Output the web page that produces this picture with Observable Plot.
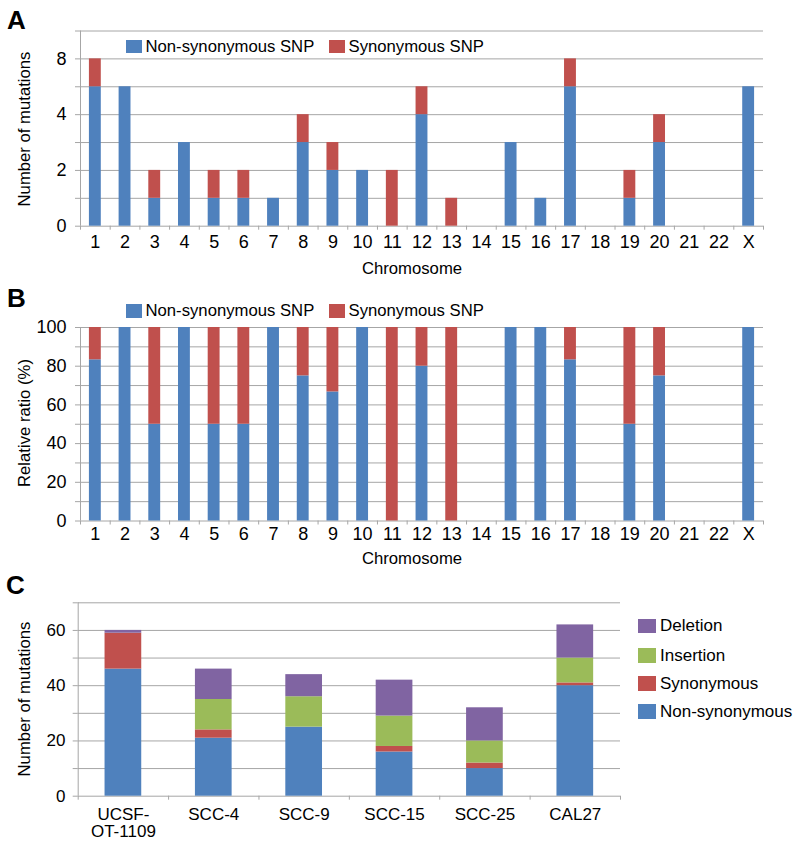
<!DOCTYPE html>
<html>
<head>
<meta charset="utf-8">
<script src="https://cdn.jsdelivr.net/npm/d3@7"></script>
<script src="https://cdn.jsdelivr.net/npm/@observablehq/plot@0.6"></script>
<style>
  body { margin: 0; background: #fff; }
  #root { position: relative; width: 800px; height: 847px; overflow: hidden;
          font-family: "Liberation Sans", Arial, sans-serif; color: #000; }
  .abs { position: absolute; white-space: nowrap; }
  .panel { position: absolute; left: 0; }
  .letter { font-weight: bold; font-size: 26px; line-height: 26px; }
  .txt { font-size: 16.7px; line-height: 20px; }
  .ytitle { font-size: 16.7px; line-height: 20px; transform: translate(-50%, -50%) rotate(-90deg); }
  .xtitle { font-size: 16.7px; line-height: 20px; transform: translate(-50%, -50%); }
</style>
</head>
<body>
<div id="root"></div>
<script>
// ---------- Data ----------
const chromosomes = ["1","2","3","4","5","6","7","8","9","10","11","12","13","14","15","16","17","18","19","20","21","22","X"];
const countNonSyn = [5,5,1,3,1,1,1,3,2,2,0,4,0,0,3,1,5,0,1,3,0,0,5];
const countSyn    = [1,0,1,0,1,1,0,1,1,0,2,1,1,0,0,0,1,0,1,1,0,0,0];
const ratioNonSyn = [83.3,100,50,100,50,50,100,75,66.7,100,0,80,0,0,100,100,83.3,0,50,75,0,0,100];
const ratioSyn    = [16.7,0,50,0,50,50,0,25,33.3,0,100,20,100,0,0,0,16.7,0,50,25,0,0,0];
const snpNames  = ["Non-synonymous SNP", "Synonymous SNP"];

const yTicksA = [0, 2, 4, 6];
const yTickLabelsA = ["0", "2", "4", "8"];
const yGridA = [0, 1, 2, 3, 4, 5, 6, 7];
const yTicksB = [0, 20, 40, 60, 80, 100];
const yGridB = [0, 10, 20, 30, 40, 50, 60, 70, 80, 90, 100];
const yTicksC = [0, 20, 40, 60];
const yGridC = [0, 10, 20, 30, 40, 50, 60, 70];

const cellLines = ["UCSF-\nOT-1109", "SCC-4", "SCC-9", "SCC-15", "SCC-25", "CAL27"];
const cNonSyn    = [46, 21, 25, 16, 10, 40];
const cSyn       = [13, 3, 0, 2, 2, 1];
const cInsertion = [0, 11, 11, 11, 8, 9];
const cDeletion  = [1, 11, 8, 13, 12, 12];
const mutNames = ["Non-synonymous", "Synonymous", "Insertion", "Deletion"];

const colBlue = "#4F81BD", colRed = "#C0504D", colGreen = "#9BBB59", colPurple = "#8064A2";
const gridColor = "#a6a6a6";
const FONT = '"Liberation Sans", Arial, sans-serif';

// ---------- Helpers ----------
function stackRows(cats, seriesNames, seriesValues) {
  const rows = [];
  cats.forEach((c, i) => {
    let base = 0;
    seriesNames.forEach((name, k) => {
      const v = seriesValues[k][i];
      if (v > 0) rows.push({i, cat: c, key: name, y1: base, y2: base + v});
      base += v || 0;
    });
  });
  return rows;
}

function barPanel({cats, names, values, colors, width = 800, height, mt, mb, ml, mr,
                   yDomain, yGrid, yTicks, yLabel, xPad, yPad, half = 0.2, lineHeight = 1, fs = 18}) {
  const rows = stackRows(cats, names, values);
  const n = cats.length;
  return Plot.plot({
    width, height, marginTop: mt, marginBottom: mb, marginLeft: ml, marginRight: mr,
    x: {type: "linear", domain: [0, n]},
    y: {type: "linear", domain: yDomain},
    color: {domain: names, range: colors},
    style: {fontFamily: FONT, fontSize: fs + "px", color: "#000", background: "transparent", overflow: "visible"},
    marks: [
      Plot.gridY(yGrid, {stroke: gridColor, strokeOpacity: 1, strokeWidth: 1}),
      Plot.ruleX([0], {stroke: gridColor, strokeWidth: 1}),
      Plot.rect(rows, {x1: d => d.i + 0.5 - half, x2: d => d.i + 0.5 + half, y1: "y1", y2: "y2", fill: "key"}),
      Plot.axisY({ticks: yGrid, tickFormat: () => "", tickSize: 5, stroke: gridColor, label: null}),
      Plot.axisY({ticks: yTicks, tickFormat: yLabel, tickSize: 0, tickPadding: yPad, label: null,
                  fill: "#000", fontSize: fs}),
      Plot.axisX({ticks: d3.range(0, n + 1), tickFormat: () => "", tickSize: 4, stroke: gridColor, label: null}),
      Plot.axisX({ticks: cats.map((c, i) => i + 0.5), tickFormat: t => cats[Math.round(t - 0.5)],
                  tickSize: 0, tickPadding: xPad, label: null, fill: "#000", fontSize: fs, lineHeight})
    ]
  });
}

const root = document.getElementById("root");
function addEl(html, cls, left, top, extra = "") {
  const d = document.createElement("div");
  d.className = "abs " + cls;
  d.style.cssText = `left:${left}px;top:${top}px;${extra}`;
  d.textContent = html;
  root.appendChild(d);
  return d;
}
function addPanel(svg, top) {
  const w = document.createElement("div");
  w.className = "panel";
  w.style.top = top + "px";
  w.appendChild(svg);
  root.appendChild(w);
}
function square(left, top, w, h, color) {
  const d = document.createElement("div");
  d.className = "abs";
  d.style.cssText = `left:${left}px;top:${top}px;width:${w}px;height:${h}px;background:${color}`;
  root.appendChild(d);
}

// ---------- Panel A ----------
addPanel(barPanel({
  cats: chromosomes, names: snpNames, values: [countNonSyn, countSyn], colors: [colBlue, colRed],
  height: 282, mt: 30.5, mb: 282 - 225.7, ml: 80, mr: 37,
  yDomain: [0, 7], yGrid: yGridA, yTicks: yTicksA,
  yLabel: d => yTickLabelsA[yTicksA.indexOf(d)], xPad: 9.5, yPad: 14
}), 0);

// ---------- Panel B ----------
addPanel(barPanel({
  cats: chromosomes, names: snpNames, values: [ratioNonSyn, ratioSyn], colors: [colBlue, colRed],
  height: 278, mt: 327 - 282, mb: 560 - 520.5, ml: 80, mr: 37,
  yDomain: [0, 100], yGrid: yGridB, yTicks: yTicksB,
  yLabel: d => String(d), xPad: 6.5, yPad: 14
}), 282);

// ---------- Panel C ----------
addPanel(barPanel({
  cats: cellLines, names: mutNames, values: [cNonSyn, cSyn, cInsertion, cDeletion],
  colors: [colBlue, colRed, colGreen, colPurple],
  height: 287, mt: 602.3 - 560, mb: 847 - 795.7, ml: 77.7, mr: 180,
  yDomain: [0, 70], yGrid: yGridC, yTicks: yTicksC,
  yLabel: d => String(d), xPad: 11, yPad: 12.7, half: 0.203, lineHeight: 1.02, fs: 17
}), 560);

// ---------- Panel letters ----------
addEl("A", "letter", 7, 7);
addEl("B", "letter", 7, 285);
addEl("C", "letter", 6, 572);

// ---------- Axis titles ----------
addEl("Number of mutations", "ytitle", 24.5, 129);
addEl("Chromosome", "xtitle", 412, 269);
addEl("Relative ratio (%)", "ytitle", 24.5, 423);
addEl("Chromosome", "xtitle", 412, 559);
addEl("Number of mutations", "ytitle", 24.5, 698.5);

// ---------- Legends A / B ----------
function snpLegend(cy) {
  const xs = [126, 329];
  snpNames.forEach((name, k) => {
    square(xs[k], cy - 6.7, 15.7, 13.4, [colBlue, colRed][k]);
    addEl(name, "txt", xs[k] + 19.5, cy - 10);
  });
}
snpLegend(46.7);
snpLegend(311);

// ---------- Legend C ----------
const legendCOrder = ["Deletion", "Insertion", "Synonymous", "Non-synonymous"];
const legendCColors = [colPurple, colGreen, colRed, colBlue];
const legendCY = [626, 655.5, 683.5, 711.5];
legendCOrder.forEach((name, k) => {
  square(638.3, legendCY[k] - 7.2, 17.3, 14.4, legendCColors[k]);
  addEl(name, "txt", 660, legendCY[k] - 10, "font-size:17px;");
});
</script>
</body>
</html>
